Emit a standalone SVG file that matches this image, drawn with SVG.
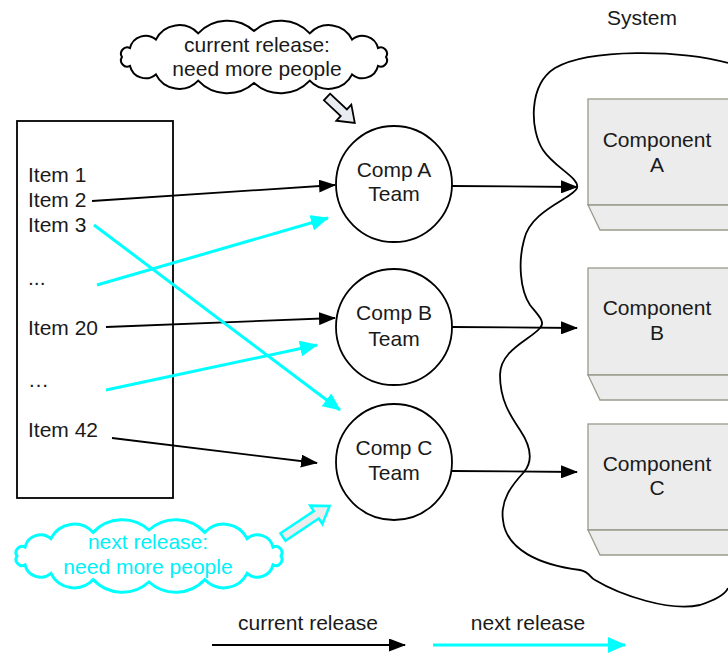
<svg xmlns="http://www.w3.org/2000/svg" width="728" height="656" viewBox="0 0 728 656">
<style>
text{font-family:"Liberation Sans",Arial,sans-serif;font-size:21px;fill:#1a1a1a}
.c{text-anchor:middle}
.cy{fill:#00f0f8}
.blk{stroke:#000;stroke-width:1.8;fill:none}
.cyl{stroke:#00ffff;stroke-width:3;fill:none}
.team{fill:#fff;stroke:#000;stroke-width:1.8}
.comp{fill:#ececec;stroke:#9a9a8c;stroke-width:1.3}
</style>
<defs>
<marker id="ab" viewBox="0 0 17 13" refX="16" refY="6.5" markerWidth="17" markerHeight="13" markerUnits="userSpaceOnUse" orient="auto">
<path d="M0 0 L17 6.5 L0 13 Z" fill="#000"/>
</marker>
<marker id="ac" viewBox="0 0 18 16" refX="17" refY="8" markerWidth="18" markerHeight="16" markerUnits="userSpaceOnUse" orient="auto">
<path d="M0 0 L18 8 L0 16 Z" fill="#00ffff"/>
</marker>
<path id="cloud" d="M -132 0 A 6.2 6.2 0 0 1 -124 -8.9 A 16 16 0 0 1 -98.1 -17.4 A 26 26 0 0 1 -55.8 -23.6 A 40 40 0 0 1 0 -26 A 40 40 0 0 1 55.8 -23.6 A 26 26 0 0 1 98.1 -17.4 A 16 16 0 0 1 124 -8.9 A 6.2 6.2 0 0 1 132 0 A 6.2 6.2 0 0 1 124 8.9 A 16 16 0 0 1 98.1 17.4 A 26 26 0 0 1 55.8 23.6 A 40 40 0 0 1 0 26 A 40 40 0 0 1 -55.8 23.6 A 26 26 0 0 1 -98.1 17.4 A 16 16 0 0 1 -124 8.9 A 6.2 6.2 0 0 1 -132 0 Z"/>
</defs>
<rect width="728" height="656" fill="#fff"/>

<g id="system">
<path d="M 728 63 C 680 50, 590 48, 555 68 C 528 85, 530 130, 543 150 C 555 168, 580 178, 577 188 C 574 198, 530 210, 524 240 C 518 262, 520 290, 530 305 C 538 315, 546 322, 540 328 C 530 340, 500 350, 500 375 C 500 400, 510 415, 520 430 C 530 445, 534 460, 524 472 C 512 485, 500 500, 503 520 C 506 550, 540 565, 580 570 C 590 572, 590 578, 595 580 C 620 595, 670 612, 700 605 C 715 600, 725 595, 728 588" fill="none" stroke="#000" stroke-width="1.8"/>
<text class="c" x="642" y="25">System</text>
</g>

<g id="items">
<rect x="17" y="121" width="156" height="377" fill="#fff" stroke="#000" stroke-width="1.8"/>
<text x="28" y="182">Item 1</text>
<text x="28" y="207">Item 2</text>
<text x="28" y="232">Item 3</text>
<text x="28" y="285">...</text>
<text x="28" y="335">Item 20</text>
<text x="28" y="387">…</text>
<text x="28" y="437">Item 42</text>
</g>

<g id="compA-team"><circle class="team" cx="394" cy="184" r="58"/><text class="c" x="394" y="177">Comp A</text><text class="c" x="394" y="201">Team</text></g>
<g id="compB-team"><circle class="team" cx="394" cy="327" r="58"/><text class="c" x="394" y="320">Comp B</text><text class="c" x="394" y="346">Team</text></g>
<g id="compC-team"><circle class="team" cx="394" cy="462" r="58"/><text class="c" x="394" y="455">Comp C</text><text class="c" x="394" y="480">Team</text></g>

<g id="componentA"><rect class="comp" x="588" y="99" width="150" height="106"/><path class="comp" d="M588 205 L738 205 L738 230 L600 230 Z"/><text class="c" x="657" y="147">Component</text><text class="c" x="657" y="172">A</text></g>
<g id="componentB"><rect class="comp" x="588" y="268" width="150" height="107"/><path class="comp" d="M588 375 L738 375 L738 400 L600 400 Z"/><text class="c" x="657" y="315">Component</text><text class="c" x="657" y="340">B</text></g>
<g id="componentC"><rect class="comp" x="588" y="424" width="150" height="106"/><path class="comp" d="M588 530 L738 530 L738 555 L600 555 Z"/><text class="c" x="657" y="471">Component</text><text class="c" x="657" y="495">C</text></g>

<g id="cloud-current">
<use href="#cloud" transform="translate(254,57)" fill="#fff" stroke="#000" stroke-width="2"/>
<text class="c" x="257" y="52">current release:</text>
<text class="c" x="257" y="76">need more people</text>
</g>
<g id="cloud-next">
<use href="#cloud" transform="translate(149,556)" fill="#fff" stroke="#00ffff" stroke-width="3"/>
<text class="c cy" x="148" y="549">next release:</text>
<text class="c cy" x="148" y="574">need more people</text>
</g>

<g id="connectors">
<path class="blk" d="M92 201 L335 185" marker-end="url(#ab)"/>
<path class="blk" d="M452 186 L577 187" marker-end="url(#ab)"/>
<path class="blk" d="M106 327 L335 318" marker-end="url(#ab)"/>
<path class="blk" d="M452 327 L577 328" marker-end="url(#ab)"/>
<path class="blk" d="M112 438 L317 463" marker-end="url(#ab)"/>
<path class="blk" d="M452 471 L577 472" marker-end="url(#ab)"/>
<path class="cyl" d="M94 225 L340 410" marker-end="url(#ac)"/>
<path class="cyl" d="M97 285 L328 218" marker-end="url(#ac)"/>
<path class="cyl" d="M106 390 L317 345" marker-end="url(#ac)"/>
<polygon points="0,-4.5 23,-4.5 23,-11 38,0 23,11 23,4.5 0,4.5" transform="translate(327,97) rotate(43)" fill="#e8ecf0" stroke="#000" stroke-width="1.8"/>
<polygon points="0,-4.5 40,-4.5 40,-11 56,0 40,11 40,4.5 0,4.5" transform="translate(283,537) rotate(-33.7)" fill="#ececec" stroke="#00ffff" stroke-width="2.5"/>
</g>

<g id="legend">
<text class="c" x="308" y="630">current release</text>
<path class="blk" d="M212 645 L405 645" marker-end="url(#ab)"/>
<text class="c" x="528" y="630">next release</text>
<path class="cyl" d="M433 645 L625 645" marker-end="url(#ac)"/>
</g>
</svg>
